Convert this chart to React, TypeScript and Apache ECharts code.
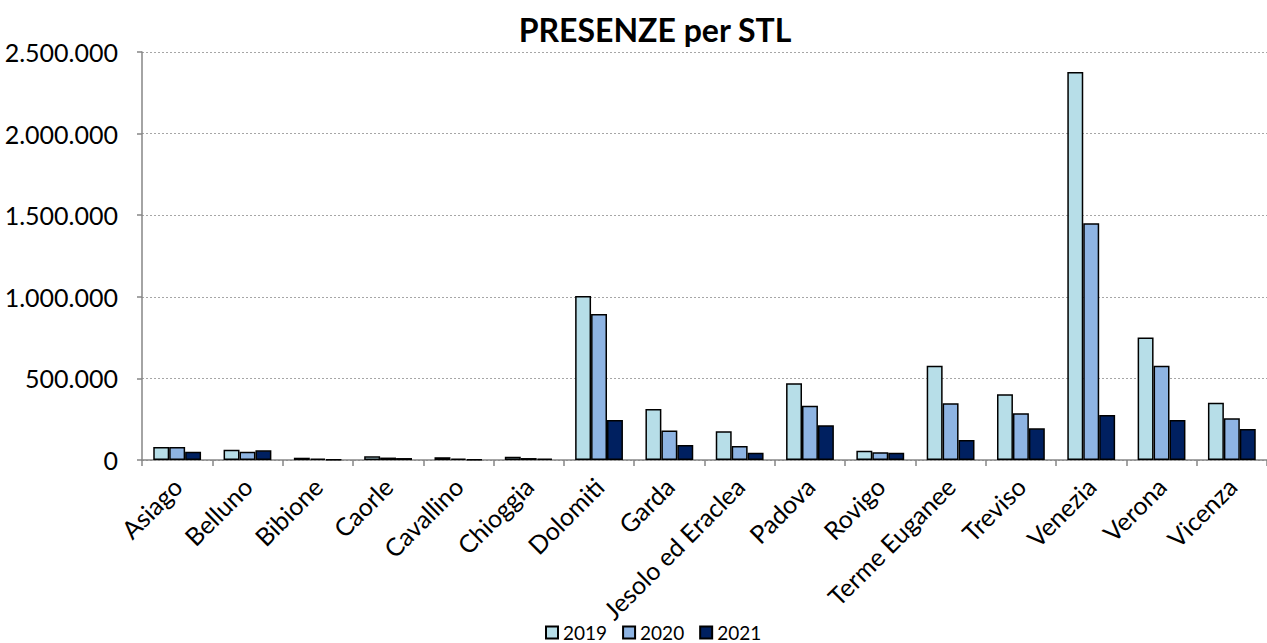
import React, { useEffect, useRef } from "react";
import * as echarts from "echarts";

const categories = [
  "Asiago", "Belluno", "Bibione", "Caorle", "Cavallino", "Chioggia", "Dolomiti", "Garda",
  "Jesolo ed Eraclea", "Padova", "Rovigo", "Terme Euganee", "Treviso", "Venezia", "Verona", "Vicenza",
];
const seriesNames = ["2019", "2020", "2021"];
const values2019 = [80000, 63000, 14000, 23000, 17000, 20000, 1005000, 312000, 176000, 470000, 57000, 577000, 403000, 2378000, 750000, 351000];
const values2020 = [80000, 51000, 8000, 15000, 9000, 12000, 895000, 180000, 86000, 333000, 48000, 348000, 287000, 1450000, 578000, 256000];
const values2021 = [51000, 59000, 3000, 12000, 4000, 8000, 245000, 92000, 45000, 213000, 45000, 123000, 194000, 276000, 245000, 190000];
const colors = ["#B7DEE8", "#8EB4E3", "#002060"];

const FONT = "Lato, 'Open Sans', sans-serif";

function fmt(v: number): string {
  return String(Math.round(v)).replace(/\B(?=(\d{3})+(?!\d))/g, ".");
}

export default function App() {
  const ref = useRef<HTMLDivElement>(null);
  useEffect(() => {
    if (!ref.current) return;
    const chart = echarts.init(ref.current, undefined, { renderer: "svg" });
    const data = [values2019, values2020, values2021];
    chart.setOption({
      animation: false,
      title: {
        text: "PRESENZE per STL",
        left: 650,
        textAlign: "center",
        top: 8,
        textStyle: { fontFamily: FONT, fontSize: 32, fontWeight: "bold", color: "#000" },
      },
      legend: {
        bottom: 1,
        left: 545,
        padding: 0,
        itemWidth: 12,
        itemHeight: 12,
        itemGap: 15,
        textStyle: { fontFamily: FONT, fontSize: 19, color: "#000", lineHeight: 19 },
        data: seriesNames.map((n) => ({ name: n, icon: "rect" })),
      },
      grid: { left: 142, right: -6, top: 52, bottom: 183, containLabel: false },
      xAxis: {
        type: "category",
        data: categories,
        axisLine: { lineStyle: { color: "#868686", width: 1.5 } },
        axisTick: { show: true, length: 6, lineStyle: { color: "#868686", width: 1.5 } },
        axisLabel: {
          interval: 0,
          rotate: 45,
          fontFamily: FONT,
          fontSize: 25,
          color: "#000",
          margin: 22,
        },
      },
      yAxis: {
        type: "value",
        min: 0,
        max: 2500000,
        interval: 500000,
        axisLine: { show: true, lineStyle: { color: "#868686", width: 1.5 } },
        axisTick: { show: true, length: 5, lineStyle: { color: "#868686", width: 1.5 } },
        splitLine: { show: true, lineStyle: { color: "#A6A6A6", type: [2, 2], width: 1 } },
        axisLabel: {
          fontFamily: FONT,
          fontSize: 25,
          color: "#000",
          margin: 24,
          formatter: (v: number) => fmt(v),
        },
      },
      series: seriesNames.map((name, i) => ({
        name,
        type: "bar",
        data: data[i],
        barGap: "0%",
        barCategoryGap: "32%",
        itemStyle: { color: colors[i], borderColor: "#000", borderWidth: 1.5 },
      })),
    });
    return () => chart.dispose();
  }, []);
  return <div ref={ref} style={{ width: 1267, height: 643, position: "absolute", left: 0, top: 0 }} />;
}
